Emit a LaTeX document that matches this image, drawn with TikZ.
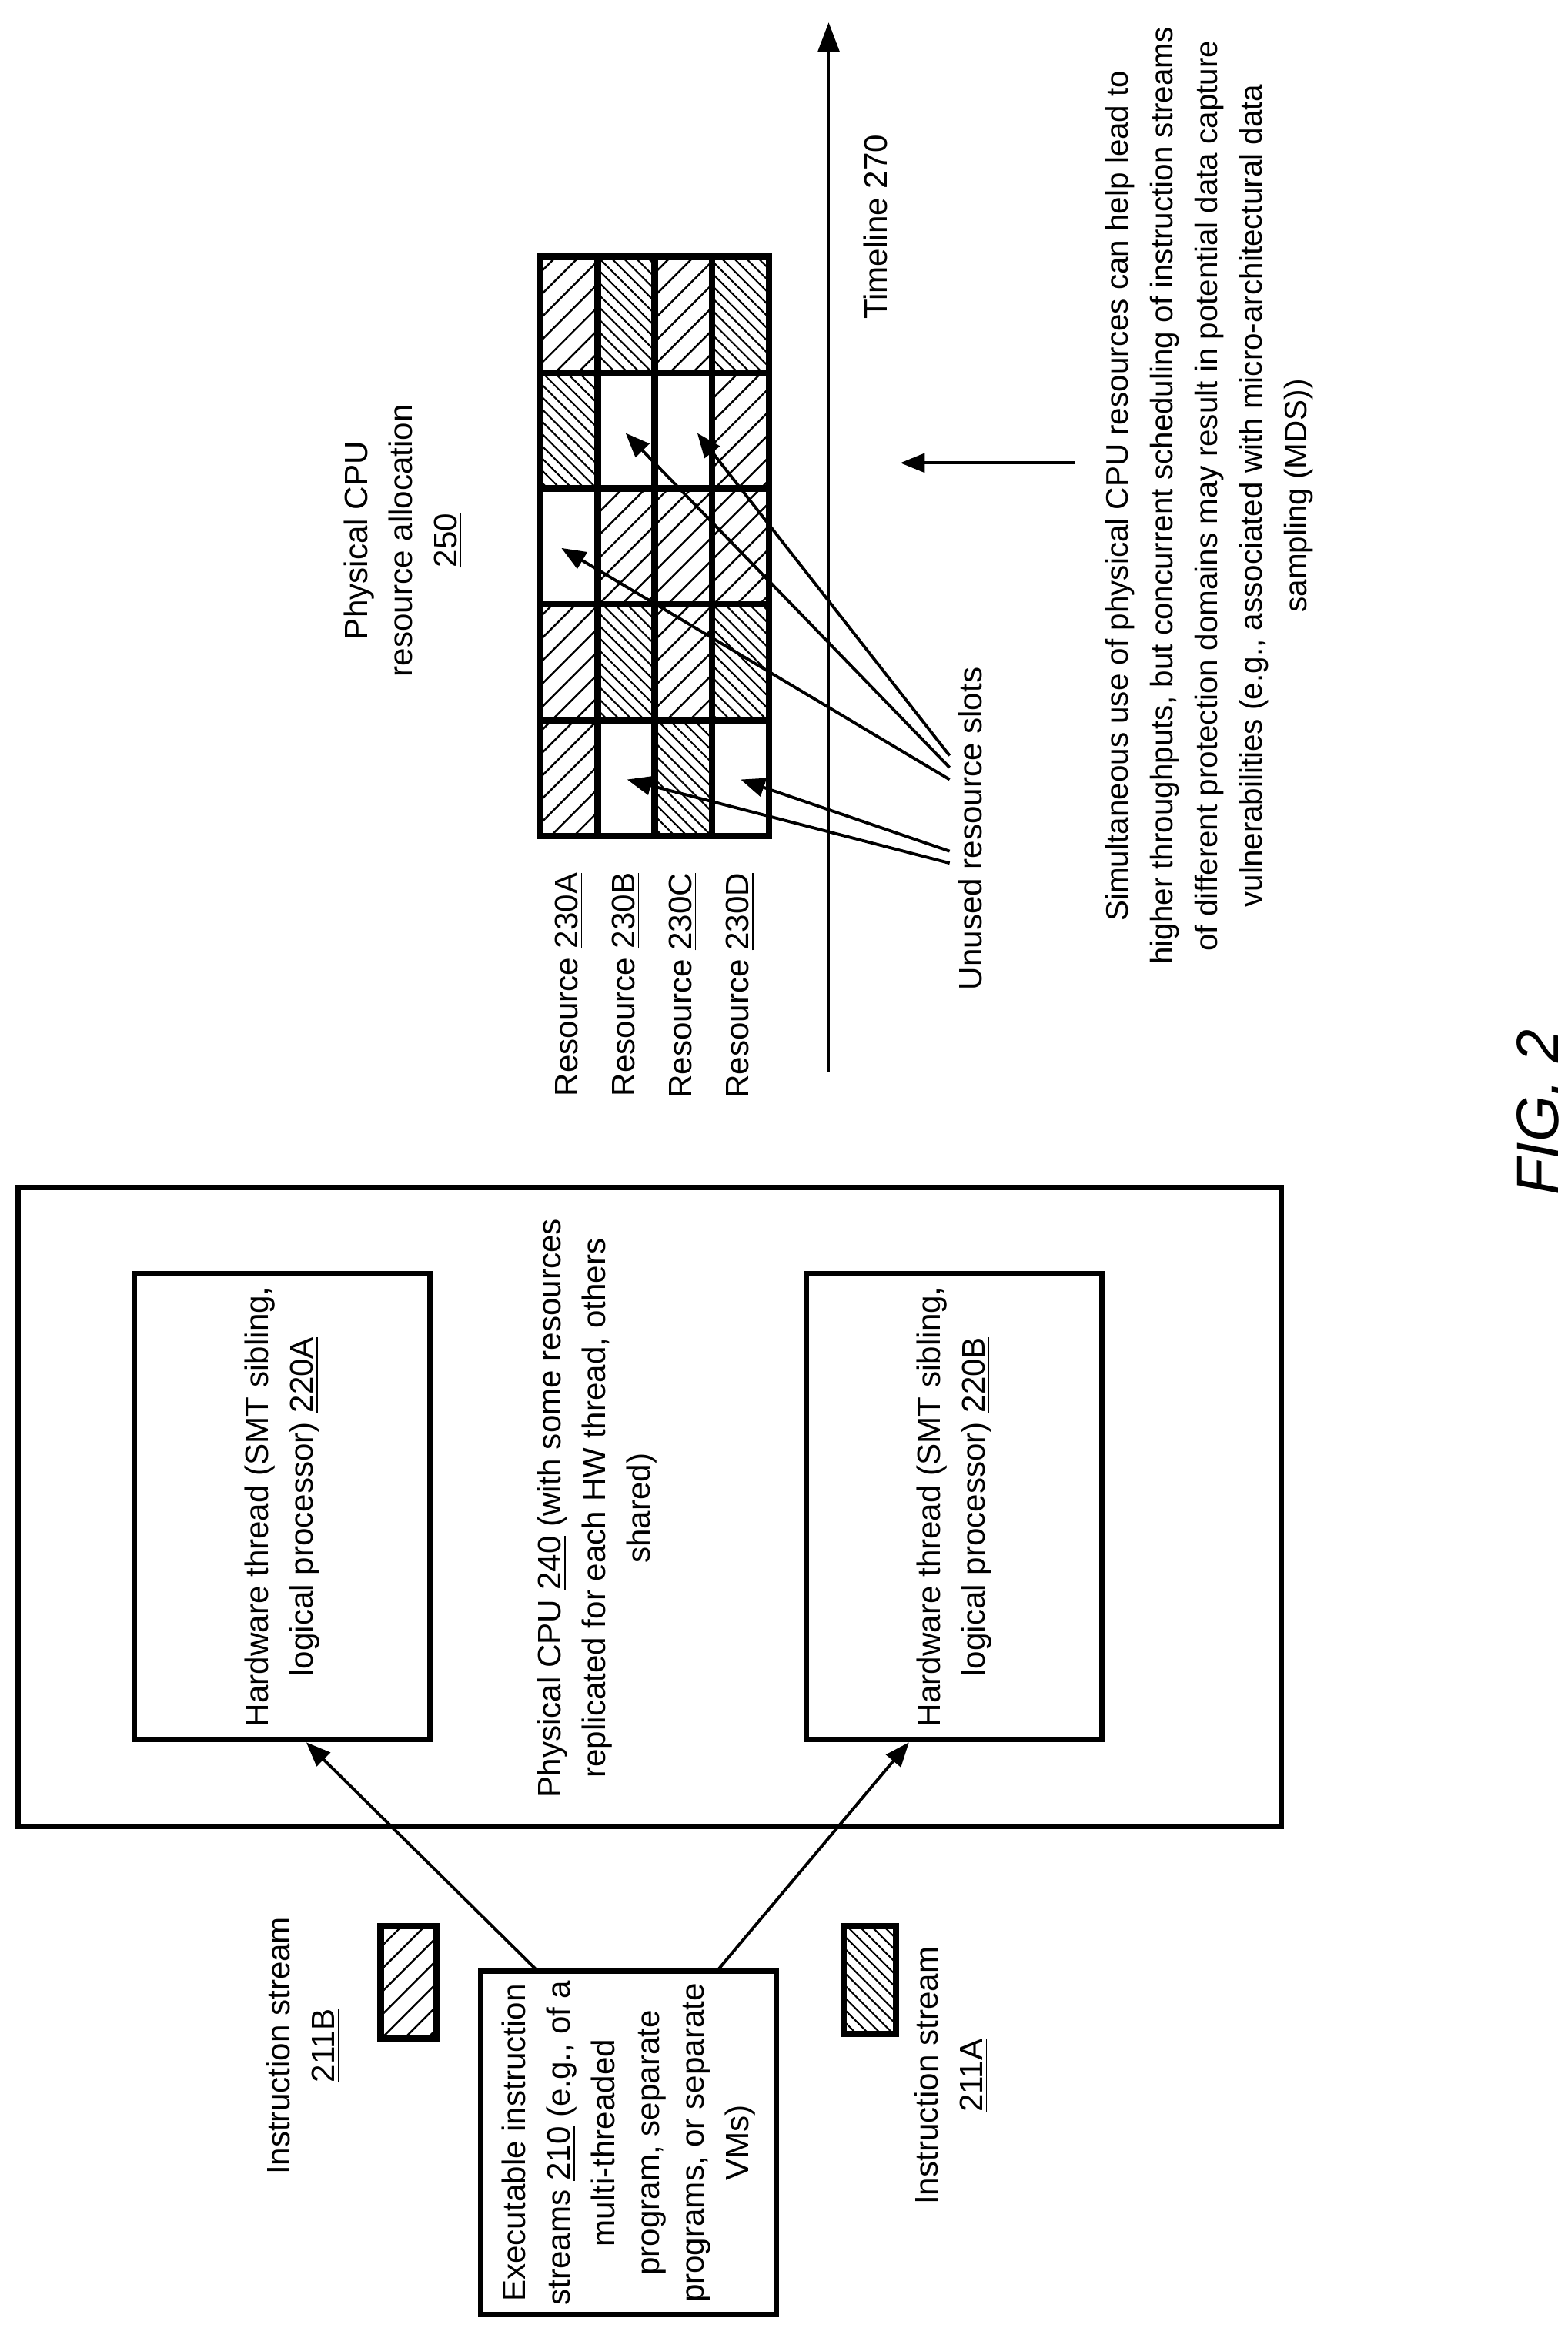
\documentclass[tikz,border=0pt]{standalone}
\usepackage{fontspec}
\setmainfont{Liberation Sans}
\usetikzlibrary{patterns.meta,calc,arrows.meta}
\begin{document}
\begin{tikzpicture}[x=0.194mm, y=-0.194mm,
    txt/.style={rotate=90, align=center, font=\fontsize{12}{16.5}\selectfont},
    box/.style={draw, line width=2pt, txt},
    link/.style={-{Triangle[length=9pt,width=7pt]}, line width=1.1pt},
    cell/.style={draw, line width=2.4pt},
    none/.style={},
    sparse/.style={pattern={Lines[angle=45,distance=6pt,line width=0.7pt]}},
    dense/.style={pattern={Lines[angle=-45,distance=3.2pt,line width=0.6pt]}}]
\useasboundingbox (0,0) rectangle (1050,1559);

% physical CPU
    \node[box, minimum width=428*0.194mm, minimum height=846*0.194mm] (cpu) at (435,1009) {};
    \node[txt] (cpu text) at (400,1010) {Physical CPU \underline{240} (with some resources\\ replicated for each HW thread, others\\ shared)};
% hardware threads
    \node[box, minimum width=312*0.194mm, minimum height=198*0.194mm] (hw a) at (189,1009) {Hardware thread (SMT sibling,\\ logical processor) \underline{220A}};
    \node[box, minimum width=312*0.194mm, minimum height=198*0.194mm] (hw b) at (639,1009) {Hardware thread (SMT sibling,\\ logical processor) \underline{220B}};

% instruction streams
    \node[box, minimum width=226*0.194mm, minimum height=198*0.194mm] (exec) at (421,1435) {Executable instruction\\ streams \underline{210} (e.g., of a\\ multi-threaded\\ program, separate\\ programs, or separate\\ VMs)};
    \draw[link] ($(exec.north east)!0.19!(exec.south east)$) -- ($(hw a.north west)!0.58!(hw a.south west)$);
    \draw[link] ($(exec.north east)!0.8!(exec.south east)$) -- ($(hw b.north west)!0.35!(hw b.south west)$);

    \draw[cell, sparse] (255,1290) rectangle (292,1365);
    \node[txt] (stream b) at (203,1370) {Instruction stream\\ \underline{211B}};
    \draw[cell, dense] (565,1290) rectangle (600,1362);
    \node[txt] (stream a) at (637,1390) {Instruction stream\\ \underline{211A}};

% resource allocation grid
    \node[txt] (alloc) at (270,362) {Physical CPU\\ resource allocation\\ \underline{250}};
    \foreach \col/\pats in {0/{sparse,sparse,none,dense,sparse},
                            1/{none,dense,sparse,none,dense},
                            2/{dense,sparse,sparse,none,sparse},
                            3/{none,dense,sparse,sparse,dense}} {
        \foreach \p [count=\row from 0] in \pats {
            \pgfmathsetmacro\xa{362+38.25*\col}
            \pgfmathsetmacro\ya{560-77.6*\row}
            \draw[cell, \p] (\xa,\ya) rectangle ++(38.25,-77.6);
        }
    }
    \foreach \col/\name in {0/A,1/B,2/C,3/D}
        \node[txt, anchor=east] (res \name) at (381+38.25*\col,578) {Resource \underline{230\name}};

% timeline
    \draw[-{Triangle[length=11pt,width=8pt]}, line width=1.1pt] (555,718) -- (555,15);
    \node[txt] (timeline) at (588,152) {Timeline \underline{270}};

% unused slots
    \node[txt] (unused) at (650,555) {Unused resource slots};
    \draw[link] (636,578) -- (420,522);
    \draw[link] (636,570) -- (496,522);
    \draw[link] (636,522) -- (376,367);
    \draw[link] (636,514) -- (419,290);
    \draw[link] (636,506) -- (467,290);

% note
    \node[txt, font=\fontsize{11.5}{16.5}\selectfont] (note) at (810,332) {Simultaneous use of physical CPU resources can help lead to\\ higher throughputs, but concurrent scheduling of instruction streams\\ of different protection domains may result in potential data capture\\ vulnerabilities (e.g., associated with micro-architectural data\\ sampling (MDS))};
    \draw[link] (720,310) -- (603,310);

    \node[rotate=90, font=\fontsize{22}{26}\selectfont\itshape] (fig) at (1030,745) {FIG. 2};
\end{tikzpicture}
\end{document}
